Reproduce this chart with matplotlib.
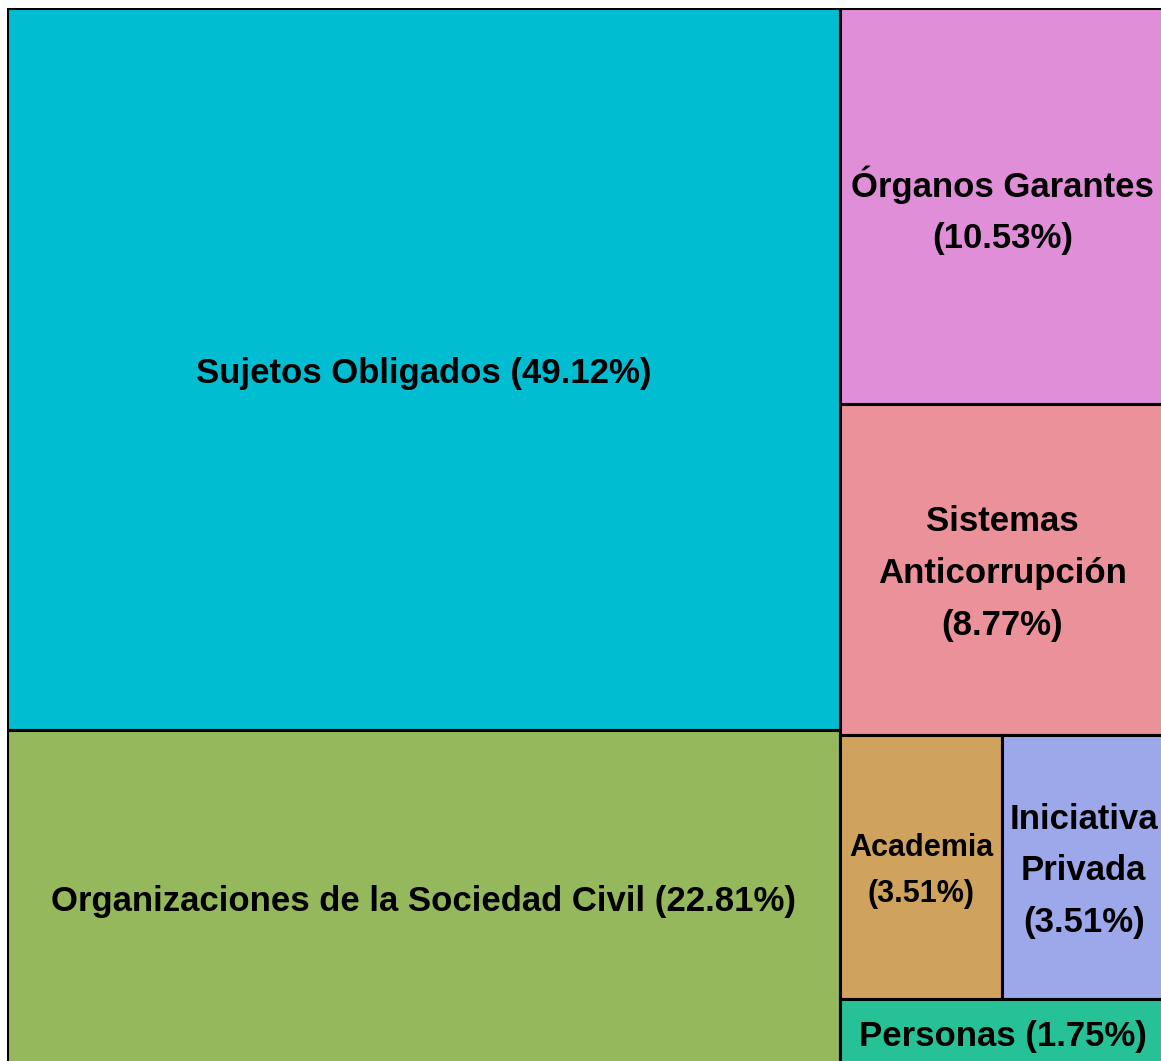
import matplotlib.pyplot as plt
from matplotlib.patches import Rectangle

# datos del treemap (conteos)
labels = ['Sujetos Obligados (49.12%)',
          'Organizaciones de la Sociedad Civil (22.81%)',
          'Órganos Garantes\n(10.53%)',
          'Sistemas\nAnticorrupción\n(8.77%)',
          'Academia\n(3.51%)',
          'Iniciativa\nPrivada\n(3.51%)',
          'Personas (1.75%)']
counts = [28, 13, 6, 5, 2, 2, 1]
colors = ['#00BDD2', '#95B85D', '#E08ED8', '#EB9199', '#CFA35E', '#9DA8EB', '#26C196']
font_sizes = [25, 25, 25, 25, 22, 25, 25]

# estructura de la división: 'h' = lado a lado, 'v' = apilado
layout = ('h', [('v', [0, 1]),
                ('v', [2, 3, ('v', [('h', [4, 5]), 6])])])


def total(node):
    if isinstance(node, int):
        return counts[node]
    return sum(total(c) for c in node[1])


def split(node, x, y, w, h, out):
    if isinstance(node, int):
        out[node] = (x, y, w, h)
        return
    kind, children = node
    s = total(node)
    pos_x, pos_top = x, y + h
    for c in children:
        frac = total(c) / s
        if kind == 'h':
            split(c, pos_x, y, w * frac, h, out)
            pos_x += w * frac
        else:
            split(c, x, pos_top - h * frac, w, h * frac, out)
            pos_top -= h * frac


rects = {}
split(layout, 0, 0, 1, 1, rects)

fig = plt.figure(figsize=(11.61, 10.61), dpi=100)
ax = fig.add_axes([7 / 1161, -4 / 1061, 1158 / 1161, 1057 / 1061])
ax.set_xlim(0, 1)
ax.set_ylim(0, 1)
ax.axis('off')

for i, (x, y, w, h) in rects.items():
    ax.add_patch(Rectangle((x, y), w, h, facecolor=colors[i], edgecolor='black', linewidth=2.2))
    ax.annotate(labels[i], (x + w / 2, y + h / 2), xytext=(0, -3), textcoords='offset points',
                ha='center', va='center', fontsize=font_sizes[i], fontweight='bold',
                family='Liberation Sans', linespacing=1.72)

fig.savefig('out.png', dpi=100)
